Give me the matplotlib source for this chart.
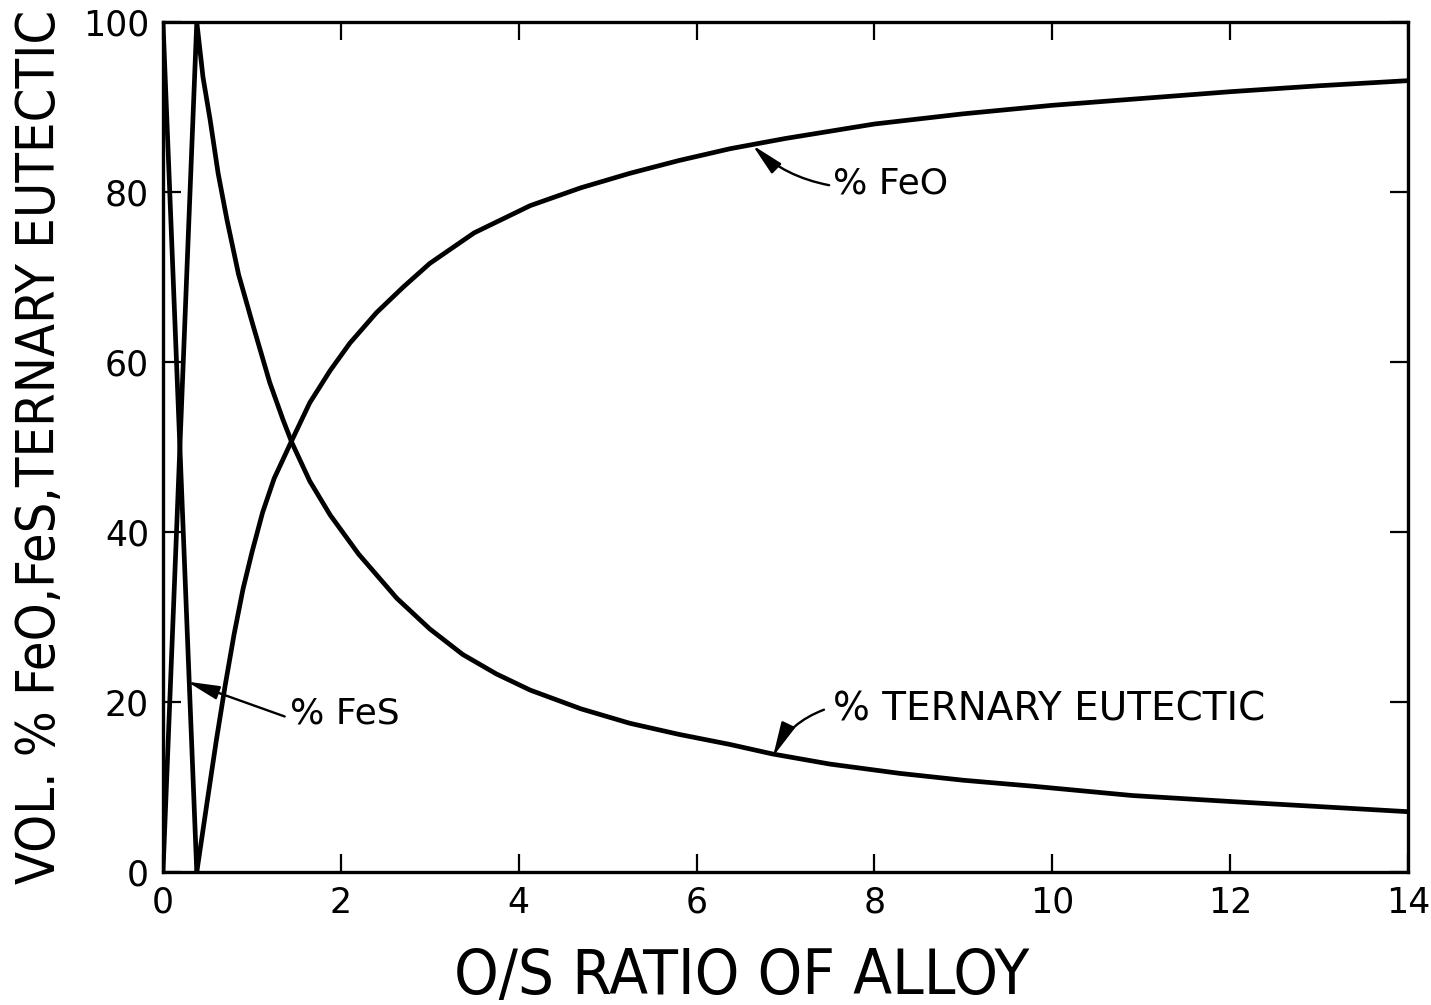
import matplotlib
matplotlib.use("Agg")
import matplotlib.pyplot as plt

# O/S ratio vs. volume fractions of the three constituents
fes_x = [0.0, 0.38]
fes_y = [100.0, 0.0]

feo_x = [0.38, 0.5, 0.6, 0.7, 0.8, 0.9, 1.0, 1.12, 1.25, 1.45, 1.65, 1.88,
         2.1, 2.4, 2.7, 3.0, 3.5, 4.13, 4.7, 5.25, 5.8, 6.38, 7.0, 8.0,
         9.0, 10.0, 11.0, 12.0, 13.0, 14.0]
feo_y = [0.0, 8.5, 15.5, 22.0, 28.0, 33.3, 37.6, 42.3, 46.3, 50.8, 55.2,
         59.0, 62.2, 65.8, 68.8, 71.6, 75.2, 78.4, 80.5, 82.2, 83.7, 85.1,
         86.3, 88.0, 89.2, 90.2, 91.0, 91.8, 92.5, 93.1]

eut_x = [0.0, 0.38, 0.45, 0.53, 0.62, 0.72, 0.85, 1.01, 1.2, 1.35, 1.45,
         1.65, 1.88, 2.2, 2.63, 3.0, 3.37, 3.75, 4.13, 4.7, 5.25, 5.8, 6.38,
         6.85, 7.5, 8.29, 9.0, 9.78, 10.9, 12.0, 13.0, 14.0]
eut_y = [0.0, 100.0, 93.5, 88.5, 82.2, 76.7, 70.3, 64.4, 57.6, 53.2, 50.5,
         46.0, 42.0, 37.4, 32.2, 28.6, 25.6, 23.3, 21.4, 19.2, 17.5, 16.2,
         15.0, 13.9, 12.7, 11.6, 10.8, 10.1, 9.0, 8.3, 7.7, 7.1]

x_ticks = [0, 2, 4, 6, 8, 10, 12, 14]
y_ticks = [0, 20, 40, 60, 80, 100]

fig = plt.figure(figsize=(14.31, 10.05), dpi=100)
ax = fig.add_axes([0.1139, 0.1323, 0.8700, 0.8458])

lw = 3.4
ax.plot(fes_x, fes_y, color="black", lw=lw, solid_joinstyle="miter")
ax.plot(feo_x, feo_y, color="black", lw=lw, solid_joinstyle="round")
ax.plot(eut_x, eut_y, color="black", lw=lw, solid_joinstyle="round")

ax.set_xlim(0, 14)
ax.set_ylim(0, 100)
ax.set_xticks(x_ticks)
ax.set_yticks(y_ticks)
ax.tick_params(direction="in", length=13, width=1.6, top=True, right=True,
               labelsize=25, pad=10)
for s in ax.spines.values():
    s.set_linewidth(2.4)

xl = ax.set_xlabel("O/S RATIO OF ALLOY", fontsize=42, fontstretch="condensed")
yl = ax.set_ylabel("VOL. % FeO,FeS,TERNARY EUTECTIC", fontsize=44,
                   fontstretch="condensed", labelpad=12)
ax.xaxis.set_label_coords(0.465, -0.088)

# scale the axis titles so they span the same length as the lettering
fig.canvas.draw()
r = fig.canvas.get_renderer()
w = xl.get_window_extent(r).width
xl.set_fontsize(42 * 575 / w)
h = yl.get_window_extent(r).height
yl.set_fontsize(44 * 872 / h)

arrow = dict(arrowstyle="-|>,head_length=0.75,head_width=0.16", color="black",
             lw=1.7, shrinkA=0, shrinkB=0)

ax.annotate("% FeS", xy=(0.27, 22.4), xytext=(1.43, 18.7), fontsize=26,
            va="center", ha="left",
            arrowprops=dict(arrow, relpos=(-0.05, 0.4)))
ax.annotate("% FeO", xy=(6.63, 85.5), xytext=(7.53, 81.0), fontsize=26,
            va="center", ha="left",
            arrowprops=dict(arrow, relpos=(-0.03, 0.45),
                            connectionstyle="arc3,rad=-0.15"))
ax.annotate("% TERNARY EUTECTIC", xy=(6.86, 13.6), xytext=(7.53, 19.1),
            fontsize=28, va="center", ha="left",
            arrowprops=dict(arrow, relpos=(-0.02, 0.5),
                            connectionstyle="arc3,rad=0.2"))

fig.savefig("out.png", dpi=100)
